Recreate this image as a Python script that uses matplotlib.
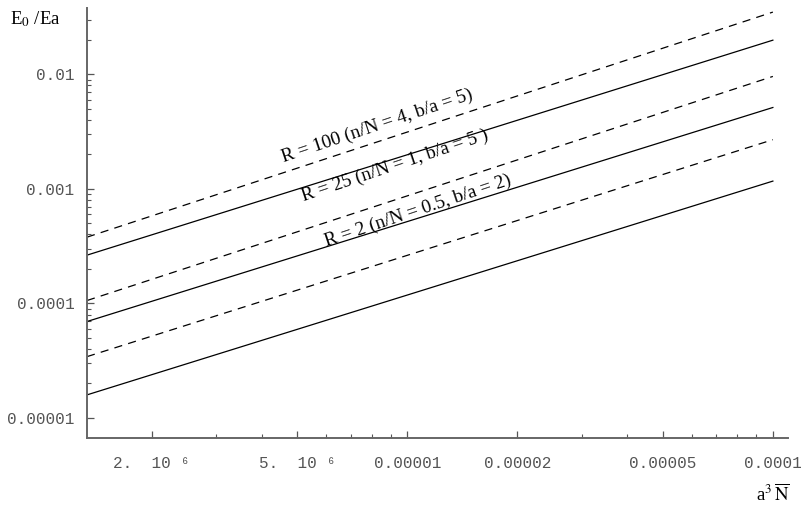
import matplotlib.pyplot as plt
import numpy as np

plt.rcParams['mathtext.fontset'] = 'stix'

# datos (extremos de cada recta)
x_ends = [1.33e-6, 1.0e-4]
dashed_R100 = [3.79e-4, 0.0350]
solid_R100 = [2.64e-4, 0.0199]
dashed_R25 = [1.06e-4, 0.0096]
solid_R25 = [6.95e-5, 0.00514]
dashed_R2 = [3.43e-5, 0.00269]
solid_R2 = [1.59e-5, 0.00117]

labels = ['R = 100 (n/N = 4, b/a = 5)',
          'R = 25 (n/N = 1, b/a = 5 )',
          'R = 2 (n/N = 0.5, b/a = 2)']

x_major = [2e-6, 5e-6, 1e-5, 2e-5, 5e-5, 1e-4]
x_major_lab = ['2.  10 \u2076', '5.  10 \u2076', '0.00001', '0.00002', '0.00005', '0.0001']
x_minor = [3e-6, 4e-6, 6e-6, 7e-6, 8e-6, 9e-6, 3e-5, 4e-5, 6e-5, 7e-5, 8e-5, 9e-5]
y_major = [1e-5, 1e-4, 1e-3, 1e-2]
y_major_lab = ['0.00001', '0.0001', '0.001', '0.01']

fig = plt.figure(figsize=(8.02, 5.12), dpi=100)
ax = fig.add_axes([87/802, 74/512, 701/802, 430/512])

dash = (0, (6.5, 5))
for d, s in [(dashed_R100, solid_R100), (dashed_R25, solid_R25), (dashed_R2, solid_R2)]:
    ax.plot(x_ends, d, color='black', lw=0.9, linestyle=dash)
    ax.plot(x_ends, s, color='black', lw=0.9)

ax.set_xscale('log')
ax.set_yscale('log')
ax.set_xlim(1.33e-6, 1.1e-4)
ax.set_ylim(6.68e-6, 0.038)

ax.set_xticks(x_major)
ax.set_xticklabels(x_major_lab)
ax.set_xticks(x_minor, minor=True)
ax.set_xticklabels([], minor=True)

y_minor = [m * 10.0**e for e in range(-5, -1) for m in range(2, 10)]
y_minor = [v for v in y_minor if v < 0.038]
ax.set_yticks(y_major)
ax.set_yticklabels(y_major_lab)
ax.set_yticks(y_minor, minor=True)
ax.set_yticklabels([], minor=True)

for lab in ax.get_xticklabels() + ax.get_yticklabels():
    lab.set_family(['Liberation Mono', 'DejaVu Sans Mono'])
    lab.set_fontsize(11.5)
    lab.set_color('#555555')

ax.tick_params(which='major', direction='in', length=5, width=0.9, color='#555555')
ax.tick_params(which='minor', direction='in', length=3, width=0.8, color='#555555')
ax.tick_params(axis='y', pad=9)
ax.tick_params(axis='x', pad=13)

for side in ['top', 'right']:
    ax.spines[side].set_visible(False)
for side in ['left', 'bottom']:
    ax.spines[side].set_color('#666666')
    ax.spines[side].set_linewidth(1.4)

# etiquetas de las rectas
pos = [(0.414, 0.726), (0.439, 0.632), (0.472, 0.528)]
for (px, py), t in zip(pos, labels):
    ax.text(px, py, t, transform=ax.transAxes, rotation=18.5, ha='center', va='center',
            family='Liberation Serif', fontsize=13.8)

fig.text(0.044, 0.963, r'E$_0$ /Ea', ha='center', va='center',
         family='Liberation Serif', fontsize=13.5)
fig.text(0.985, 0.035, r'a$^3\,\overline{\mathrm{N}}$', ha='right', va='center',
         family='Liberation Serif', fontsize=13.5)

fig.savefig('out.png', dpi=100)
